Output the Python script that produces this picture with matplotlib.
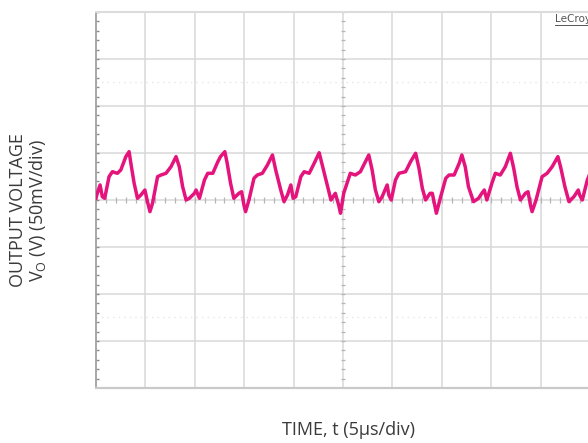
import numpy as np
import matplotlib
matplotlib.use('Agg')
import matplotlib.pyplot as plt
from matplotlib.lines import Line2D

# scope trace: time in us, output ripple in mV
time_us = [0.0, 0.13, 0.41, 0.64, 0.88, 1.32, 1.66, 2.16, 2.51, 3.02, 3.35, 3.53, 3.86, 4.20, 4.54, 4.95,
           5.21, 5.46, 5.72, 6.23, 6.58, 7.08, 7.59, 8.10, 8.43, 8.77, 9.12, 9.45, 9.96, 10.13, 10.47,
           10.98, 11.31, 11.82, 12.33, 12.60, 13.04, 13.28, 13.62, 13.95, 14.46, 14.74, 14.97, 15.14,
           15.48, 15.99, 16.33, 16.84, 17.35, 17.86, 18.19, 18.70, 19.03, 19.38, 19.72, 19.95, 20.22,
           20.73, 21.07, 21.58, 22.08, 22.59, 22.94, 23.45, 23.78, 24.22, 24.56, 24.75, 25.07, 25.74,
           26.25, 26.76, 27.27, 27.61, 27.95, 28.28, 28.63, 28.96, 29.47, 29.64, 29.88, 30.31, 30.66,
           31.33, 31.84, 32.35, 32.69, 33.03, 33.36, 33.81, 34.04, 34.32, 34.45, 34.89, 35.40, 35.74,
           36.25, 36.76, 37.03, 37.37, 37.70, 38.21, 38.72, 39.05, 39.30, 39.56, 40.07, 40.42, 40.92,
           41.43, 41.94, 42.28, 42.61, 42.96, 43.46, 43.73, 43.97, 44.14, 44.54, 45.15, 45.66, 46.17,
           46.75, 47.02, 47.46, 47.87, 48.37, 48.81, 48.95, 49.22, 49.73, 50.0]
vout_mv = [1.8, 7.1, 16.0, 3.5, 1.8, 24.8, 30.1, 28.4, 31.9, 46.1, 51.4, 39.0, 17.8, 1.8, 5.3, 10.6,
           -1.8, -12.4, -3.5, 24.8, 26.6, 28.4, 35.4, 46.1, 35.4, 14.1, 0.0, 1.8, 7.1, 10.6, 1.8,
           21.3, 28.4, 28.4, 40.7, 46.1, 51.4, 39.0, 17.8, 1.8, 7.1, 8.8, -5.3, -12.4,
           0.0, 23.1, 26.6, 28.4, 37.2, 47.9, 31.9, 10.6, -1.8, 5.3, 16.0, 1.8, 3.5,
           24.8, 30.1, 28.4, 39.0, 50.3, 35.4, 14.1, 0.0, 7.1, -5.3, -14.1, 7.1, 28.4,
           26.6, 30.1, 40.7, 47.9, 31.9, 10.6, -1.8, 3.5, 16.0, 5.3, 0.0, 21.3, 28.4,
           30.1, 40.7, 49.7, 33.7, 12.4, 0.0, 7.1, 7.1, -7.1, -14.1, 3.5, 23.1, 26.6,
           26.6, 39.0, 47.9, 35.4, 14.1, -1.8, 1.8, 7.1, 10.6, 0.0, 17.8, 28.4, 26.6,
           35.4, 49.7, 33.7, 14.1, 0.0, 7.1, 8.8, -5.3, -12.4, 0.0, 24.8, 28.4, 35.4,
           46.1, 35.4, 14.1, -1.8, 3.5, 10.6, 5.3, 0.0, 21.3, 28.4]

x_divs = np.arange(0, 55, 5)          # 5us/div, 10 divisions
y_divs = np.arange(-200, 250, 50)     # 50mV/div, 8 divisions

W, H = 588, 443
fig = plt.figure(figsize=(W / 100, H / 100), dpi=100)
ax = fig.add_axes([96 / W, 1 - 388 / H, 494 / W, 376 / H])
ax.set_xlim(0, 50)
ax.set_ylim(-200, 200)

grid_c = '#d9d9d9'
for xv in x_divs[1:]:
    ax.axvline(xv, color=grid_c, lw=1.1, zorder=1)
for yv in y_divs[1:-1]:
    ax.axhline(yv, color=grid_c, lw=1.1, zorder=1)

# faint cursor lines
for yv in (125, -125):
    ax.axhline(yv, color='#e6e6e6', lw=1.0, ls=(0, (1, 3)), zorder=1)

# graticule tick marks on the centre lines and the left edge
minor_x = np.arange(0, 50.01, 1)
minor_y = np.arange(-200, 200.01, 10)
ax.vlines(minor_x, -3, 3, color='#b5b5b5', lw=0.9, zorder=2)
ax.hlines(minor_y, 24.75, 25.25, color='#b5b5b5', lw=0.9, zorder=2)
ax.hlines(minor_y, 0, 0.3, color='#8c8c8c', lw=1.0, zorder=2)

ax.plot(time_us, vout_mv, color='#e5147d', lw=2.5, solid_joinstyle='round', zorder=3)

ax.spines['right'].set_visible(False)
ax.spines['top'].set_color('#dcdcdc')
ax.spines['top'].set_linewidth(1.5)
ax.spines['bottom'].set_color('#c9c9c9')
ax.spines['bottom'].set_linewidth(1.6)
ax.spines['left'].set_color('#a0a0a0')
ax.spines['left'].set_linewidth(1.3)
ax.set_xticks([])
ax.set_yticks([])

fig.text(555 / W, 1 - 19 / H, 'LeCroy', fontsize=7.5, color='#555555', va='center', ha='left',
         family='DejaVu Sans')
fig.add_artist(Line2D([555 / W, 1.0], [1 - 25 / H, 1 - 25 / H], color='#555555', lw=0.7))

txt_c = '#3a3a3a'
fig.text(349 / W, 1 - 430 / H, 'TIME, t (5\u00b5s/div)', fontsize=13, color=txt_c,
         ha='center', va='center', family='Open Sans')
fig.text(18 / W, 1 - 210 / H, 'OUTPUT VOLTAGE', fontsize=13, color=txt_c, rotation=90,
         ha='center', va='center', family='Open Sans')
fig.text(37 / W, 1 - 211 / H, r'V$_\mathregular{O}$ (V) (50mV/div)', fontsize=13, color=txt_c,
         rotation=90, ha='center', va='center', family='Open Sans')

fig.savefig('out.png', dpi=100)
